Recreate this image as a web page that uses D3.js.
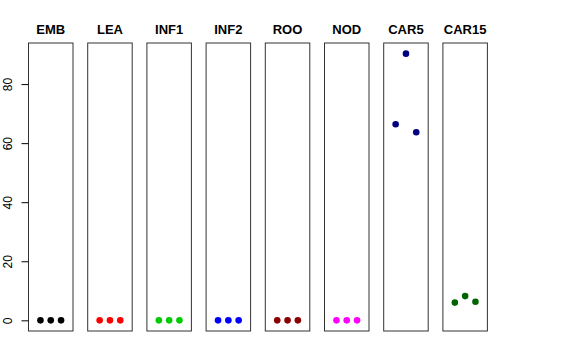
<!DOCTYPE html>
<html>
<head>
<meta charset="utf-8">
<script src="https://cdn.jsdelivr.net/npm/d3@7"></script>
<style>
  body { margin: 0; background: #fff; }
  svg { display: block; font-family: "Liberation Sans", Arial, sans-serif; }
</style>
</head>
<body>
<svg id="viz"></svg>
<script>
// tissues shown as panels, left to right
const tissues = ["EMB", "LEA", "INF1", "INF2", "ROO", "NOD", "CAR5", "CAR15"]
const colors = ["#000000", "#ff0000", "#00cd00", "#0000ff", "#8b0000", "#ff00ff", "#000080", "#006400"]
// three replicates per tissue
const values = [
  [0, 0, 0],
  [0, 0, 0],
  [0, 0, 0],
  [0, 0, 0],
  [0, 0, 0],
  [0, 0, 0],
  [66.4, 90.3, 63.7],
  [6.0, 8.2, 6.3],
]
const yTicks = [0, 20, 40, 60, 80]

const width = 576
const height = 360
const svg = d3.select("#viz").attr("width", width).attr("height", height)

const plotTop = 43
const plotBottom = 331
const panelW = 44.5
const step = 59.2
const left0 = 28.5

// R style 4% padding around the data range
const all = values.flat()
const lo = d3.min(all), hi = d3.max(all)
const pad = (hi - lo) * 0.04
const y = d3.scaleLinear().domain([lo - pad, hi + pad]).range([plotBottom, plotTop])

tissues.forEach((name, i) => {
  const x0 = left0 + i * step
  const x = d3.scaleLinear().domain([-0.16, 4.16]).range([x0, x0 + panelW])
  const g = svg.append("g")

  g.append("rect")
    .attr("x", x0)
    .attr("y", plotTop)
    .attr("width", panelW)
    .attr("height", plotBottom - plotTop)
    .attr("fill", "none")
    .attr("stroke", "#333")
    .attr("stroke-width", 1)

  g.append("text")
    .attr("x", x0 + panelW / 2)
    .attr("y", 34)
    .attr("text-anchor", "middle")
    .attr("font-weight", "bold")
    .attr("font-size", 13)
    .text(name)

  g.selectAll("circle")
    .data(values[i])
    .join("circle")
    .attr("cx", (d, j) => x(j + 1))
    .attr("cy", (d) => y(d))
    .attr("r", 3.3)
    .attr("fill", colors[i])

  if (i === 0) {
    const axis = d3.axisLeft(y).tickValues(yTicks).tickSize(7).tickPadding(0)
    const ax = svg.append("g").attr("transform", `translate(${x0},0)`).call(axis)
    ax.select(".domain").remove()
    ax.selectAll(".tick line").attr("stroke", "#000")
    ax.selectAll(".tick text")
      .attr("font-size", 12)
      .attr("font-family", "Liberation Sans, Arial, sans-serif")
      .attr("fill", "#000")
      .attr("text-anchor", "middle")
      .attr("x", 0)
      .attr("y", -17)
      .attr("dy", null)
      .attr("transform", "rotate(-90)")
  }
})
</script>
</body>
</html>
